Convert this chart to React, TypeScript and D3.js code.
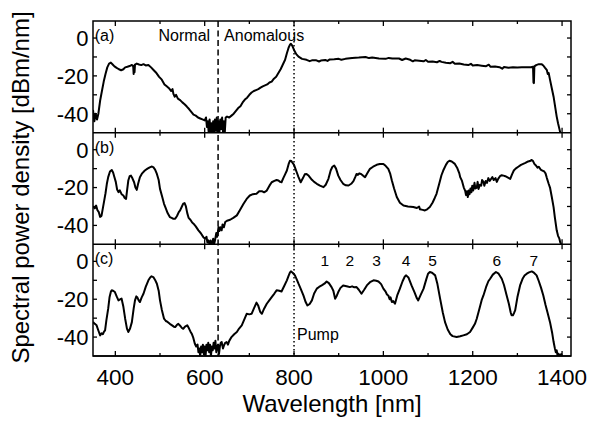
import React from "react";
import * as d3 from "d3";

const xTicksMajor = [400, 600, 800, 1000, 1200, 1400];
const xTicksMinor = [500, 700, 900, 1100, 1300];
const yTicksMajor = [0, -20, -40];
const yTicksMinor = [-10, -30];
const panelLabels = ["(a)", "(b)", "(c)"];
const orderLabels = ["1", "2", "3", "4", "5", "6", "7"];
const orderPositions = [869, 925, 985, 1051, 1110, 1254, 1337];
const normalBoundary = 630;
const pumpWavelength = 800;

const panelA: [number, number][] = [
  [350,-38],[353,-44],[356,-40],[359,-43],[362,-40],[366,-33],[370,-28],[374,-23],[378,-19],[382,-15.5],[386,-13.5],[390,-13],[394,-14],[398,-15],[403,-15.8],[408,-16.5],[413,-17],[418,-16.5],[422,-15.5],[427,-15.2],[432,-14.8],[437,-14.2],[440,-15],[441,-19],[442,-14.5],[443,-18],[444,-14],[448,-13.5],[453,-14],[458,-14.3],[463,-13.8],[468,-14.5],[474,-14.2],[480,-15.5],[486,-17],[492,-18.5],[498,-20.5],[504,-22],[510,-24.5],[515,-25.5],[520,-26.5],[525,-28],[528,-27],[530,-29.5],[533,-31],[536,-30],[540,-32],[545,-32.8],[550,-34],[555,-35],[560,-36.2],[565,-37.5],[570,-39],[575,-40.5],[580,-41],[585,-42],[590,-42.5],[595,-43],[600,-43.5],[603,-42],[605,-47],[607,-44],[609,-50],[611,-43],[613,-50],[615,-45],[617,-50],[619,-44],[621,-50],[623,-43],[625,-49],[627,-42],[629,-50],[631,-44],[633,-50],[635,-43],[637,-48],[639,-42],[641,-50],[643,-44],[645,-50],[647,-42],[650,-41.5],[655,-42],[660,-41],[665,-40],[670,-38.5],[675,-37],[680,-36],[685,-34],[690,-32.5],[695,-31.5],[700,-30],[705,-28.8],[710,-28],[715,-27.5],[720,-27],[725,-26.2],[730,-25.5],[735,-25],[740,-24.5],[745,-23.5],[750,-23],[755,-21.5],[760,-20.5],[765,-18.5],[770,-16.5],[775,-14],[780,-11.5],[784,-8],[788,-5],[791,-3.5],[793,-3],[796,-4],[800,-6.3],[805,-8.5],[810,-9.8],[818,-11],[828,-11.5],[835,-12.2],[840,-11.8],[850,-11.8],[856,-12.4],[860,-11.9],[870,-11.6],[875,-12.1],[880,-11.3],[890,-11.2],[900,-11],[906,-11.5],[915,-11],[930,-10.5],[945,-10.3],[960,-10],[968,-10.6],[975,-10.3],[990,-10.8],[1005,-11],[1012,-10.5],[1020,-10.8],[1035,-10.8],[1042,-11.6],[1050,-10.8],[1060,-11.5],[1066,-12.3],[1070,-11.8],[1080,-12],[1090,-12.3],[1095,-11.6],[1100,-12.5],[1110,-12.4],[1120,-12.8],[1126,-12.1],[1130,-12.6],[1140,-13],[1150,-13.3],[1155,-12.6],[1160,-13.6],[1170,-13.5],[1180,-14],[1190,-14.3],[1196,-13.6],[1200,-14.5],[1210,-14.3],[1220,-14.6],[1230,-14.9],[1236,-14.1],[1240,-15.2],[1250,-15],[1260,-15.4],[1266,-16.2],[1270,-15.3],[1280,-15.7],[1290,-15.5],[1300,-15.6],[1310,-15.4],[1320,-15.5],[1330,-15.4],[1335,-15.2],[1336,-23.5],[1337,-23.8],[1338,-15],[1342,-14.3],[1348,-13.8],[1354,-13.8],[1358,-14.5],[1362,-15.8],[1366,-17],[1368,-19],[1370,-18.5],[1373,-22],[1377,-26.5],[1381,-31],[1385,-37],[1388,-41.5],[1391,-45],[1394,-48],[1396,-50]
];

const panelB: [number, number][] = [
  [350,-30],[354,-31],[357,-29.5],[360,-32],[363,-33],[366,-35.5],[369,-35],[372,-31],[375,-27],[378,-23],[381,-18],[384,-14.5],[388,-11.5],[392,-10.7],[395,-12],[398,-14.5],[401,-17],[404,-21],[407,-22.4],[410,-21.5],[414,-23.5],[418,-24.2],[421,-25.5],[424,-26],[426,-22],[429,-16.3],[432,-14],[435,-13.7],[438,-15],[442,-17.2],[445,-20],[448,-21.2],[451,-18],[455,-14.5],[460,-12.5],[466,-11],[472,-10],[477,-9.3],[481,-8.9],[485,-9.2],[489,-10.5],[493,-12.8],[497,-16],[500,-20.7],[505,-25],[509,-28.6],[513,-31],[517,-33.5],[522,-35.6],[526,-36],[530,-36.5],[534,-36.5],[538,-35],[542,-33],[545,-32.1],[549,-30],[552,-28.5],[555,-28.2],[558,-30],[561,-33.5],[564,-36],[568,-37],[572,-38.5],[575,-39.1],[580,-40.5],[586,-42.6],[591,-44],[597,-46.2],[601,-47],[604,-46],[606,-49],[608,-47.9],[611,-50],[613,-48],[616,-49.7],[619,-47],[621,-50],[623,-48],[626,-44],[628,-46],[631,-40.9],[633,-43],[635,-41],[638,-42.6],[640,-39.5],[643,-41],[646,-38.2],[650,-37.5],[657,-37],[664,-36],[672,-34.7],[680,-31.5],[687,-28.6],[694,-26],[701,-24.2],[708,-23.5],[716,-23.3],[722,-22],[728,-21.9],[733,-22.5],[739,-21.6],[745,-19],[750,-17.2],[756,-16.5],[761,-16],[765,-16.3],[769,-17],[772,-17.2],[776,-15],[780,-13],[784,-11],[788,-7.5],[791,-5.8],[794,-6],[797,-7],[800,-8],[803,-10],[806,-11.9],[810,-14.5],[815,-17.2],[820,-15],[824,-13],[828,-12.8],[833,-13.8],[840,-15.9],[845,-17],[851,-18],[858,-19],[866,-19.8],[871,-18.5],[877,-15.4],[882,-11],[886,-9],[890,-8.4],[894,-10],[899,-13.7],[904,-16],[910,-18],[916,-18.8],[922,-18.9],[928,-18],[933,-16.6],[937,-14.5],[940,-12.8],[943,-13.3],[946,-12.5],[950,-12.8],[955,-13.8],[959,-14.5],[964,-12.5],[970,-10.1],[977,-9],[985,-8],[992,-7.6],[1000,-7.5],[1005,-8.5],[1011,-10.1],[1015,-12.5],[1019,-16.3],[1024,-20.5],[1030,-25],[1037,-28],[1045,-29.5],[1055,-30],[1067,-30.3],[1075,-30.8],[1080,-30],[1082,-31.5],[1088,-31.8],[1093,-32.1],[1098,-31.5],[1104,-30.3],[1110,-28],[1115,-25.5],[1119,-23.3],[1125,-18],[1130,-13.5],[1134,-11],[1140,-8],[1144,-6.5],[1148,-5.8],[1153,-6.2],[1160,-7.5],[1165,-9.5],[1170,-12.5],[1172,-14.5],[1176,-16.5],[1180,-20],[1183,-21.6],[1185,-24],[1187,-22],[1189,-25],[1191,-21.5],[1193,-23.5],[1195,-20.5],[1197,-22.5],[1199,-19],[1201,-21.6],[1204,-17.5],[1206,-20.5],[1209,-20],[1211,-17],[1213,-20.7],[1216,-18.5],[1219,-19],[1221,-16],[1224,-17],[1226,-19],[1229,-16.5],[1232,-17.5],[1235,-15],[1238,-16.5],[1241,-15.5],[1244,-14.5],[1247,-16],[1251,-15],[1254,-17],[1257,-15.4],[1261,-14],[1265,-13.5],[1269,-13.7],[1273,-14],[1277,-14.5],[1281,-15],[1284,-15.4],[1288,-13],[1292,-11],[1296,-10],[1302,-9],[1308,-8],[1313,-7.5],[1318,-7],[1324,-6.2],[1328,-6],[1332,-5.4],[1335,-6],[1338,-7.5],[1342,-8.5],[1345,-9.5],[1348,-9],[1352,-10.5],[1356,-11],[1360,-11.5],[1363,-12.5],[1366,-15],[1370,-18],[1373,-20],[1377,-25],[1381,-30.3],[1384,-36],[1388,-42.6],[1391,-45.5],[1394,-47],[1396,-49],[1398,-50]
];

const panelC: [number, number][] = [
  [350,-32],[354,-33],[358,-33.8],[362,-36.5],[366,-39.1],[369,-38],[372,-38.5],[375,-37],[377,-36.5],[380,-31],[384,-25],[387,-19],[390,-16],[392,-15.3],[395,-15.5],[399,-16.2],[403,-18.5],[407,-20.6],[411,-20],[414,-19.7],[418,-24],[422,-30.3],[426,-35.5],[429,-37.3],[433,-35.5],[437,-32.1],[441,-25],[444,-20.6],[447,-18.5],[449,-18.9],[452,-20.5],[455,-21.5],[459,-19],[463,-17.1],[468,-13.5],[474,-10],[478,-8.5],[481,-7.9],[485,-8.3],[489,-9.8],[493,-11.8],[497,-15.5],[500,-20.6],[504,-25.5],[509,-30.3],[513,-31.5],[517,-32],[522,-33],[527,-33.8],[531,-34.5],[534,-34.7],[538,-33.5],[541,-33],[545,-34],[549,-35.2],[552,-35.6],[556,-34.5],[561,-33.8],[565,-35.5],[568,-37],[571,-38.2],[574,-40],[578,-43.5],[581,-45],[584,-44],[586,-48],[588,-46],[590,-50],[592,-45],[594,-48],[596,-44],[598,-49],[600,-45],[602,-50],[604,-44],[606,-47],[608,-43],[610,-48],[612,-44],[614,-50],[616,-45],[618,-47],[620,-43],[622,-46],[624,-42],[626,-48],[628,-45],[630,-44],[632,-49],[634,-45],[636,-43],[638,-42.6],[641,-46],[643,-44.5],[646,-43],[649,-42.6],[652,-44],[655,-42],[660,-40],[666,-38.5],[672,-37.3],[677,-35.5],[683,-33.8],[689,-30.5],[694,-27.7],[700,-28],[705,-27.7],[710,-25],[716,-21.8],[720,-23.5],[724,-26.5],[728,-27.7],[733,-25],[739,-22.4],[745,-20.5],[750,-18.9],[756,-17],[761,-15.3],[767,-15.5],[772,-15.9],[778,-13],[784,-10],[788,-7.5],[791,-5.8],[793,-5.3],[797,-6],[802,-7.4],[806,-9.5],[810,-11.8],[815,-14.5],[821,-18],[826,-21.5],[830,-23.3],[835,-22.5],[840,-20.6],[845,-17],[851,-14.4],[856,-13.5],[862,-12.7],[868,-11.8],[873,-10.6],[878,-11.5],[884,-13.6],[888,-15.5],[892,-19.7],[896,-18],[899,-16.2],[904,-14],[910,-12.7],[915,-13],[920,-13.3],[925,-13.6],[930,-13.2],[935,-13.7],[940,-13.6],[945,-15],[951,-17.1],[957,-15],[963,-12.7],[970,-11],[978,-10],[984,-10.2],[989,-10.6],[995,-12],[1000,-14.4],[1005,-16],[1008,-17.5],[1011,-18],[1014,-20],[1016,-19],[1019,-21.5],[1022,-21],[1026,-22.4],[1031,-18],[1037,-14.4],[1043,-10.5],[1048,-8],[1051,-7.4],[1056,-8.5],[1063,-12.7],[1070,-16.5],[1075,-19.5],[1078,-20.6],[1083,-18],[1090,-14.4],[1096,-9.5],[1100,-6.5],[1104,-5.6],[1109,-6],[1116,-7.4],[1121,-12],[1127,-19.7],[1133,-27],[1138,-32.1],[1144,-36],[1150,-38.5],[1155,-39.5],[1164,-40],[1172,-39.6],[1179,-39.1],[1187,-38.5],[1194,-37.3],[1200,-35],[1205,-33],[1209,-30.3],[1215,-25],[1220,-20.5],[1224,-18],[1230,-13.5],[1235,-10.5],[1239,-9.2],[1245,-7],[1252,-5.6],[1258,-6.5],[1265,-9.2],[1270,-12.5],[1276,-18],[1281,-22.5],[1285,-27],[1287,-28.5],[1290,-28.5],[1293,-27],[1295,-25.9],[1300,-19],[1306,-12.7],[1312,-9],[1316,-7.5],[1321,-6.5],[1326,-5.8],[1332,-5.3],[1337,-6],[1343,-7.4],[1348,-10.5],[1353,-14],[1358,-18],[1363,-23],[1368,-27.5],[1373,-32.1],[1378,-38],[1381,-42.5],[1384,-46.1],[1386,-48],[1388,-47],[1390,-50],[1392,-48.8],[1395,-50],[1398,-49],[1400,-50]
];

const panels = [panelA, panelB, panelC];

const W = 589;
const H = 422;
const left = 93;
const right = 571;
const top = 21;
const panelH = 111.67;
const FONT = "'Liberation Sans', Arial, Helvetica, sans-serif";

export default function App() {
  const x = d3.scaleLinear().domain([350, 1420]).range([left, right]);
  const yFor = (i: number) =>
    d3.scaleLinear().domain([-50, 9]).range([top + (i + 1) * panelH, top + i * panelH]);
  const bottom = top + 3 * panelH;

  return (
    <svg
      width={W}
      height={H}
      style={{ position: "absolute", left: 0, top: 0, background: "#fff" }}
      fontFamily={FONT}
    >
      <defs>
        {panels.map((_, i) => (
          <clipPath id={`clip${i}`} key={i}>
            <rect x={left} y={top + i * panelH} width={right - left} height={panelH} />
          </clipPath>
        ))}
      </defs>
      {panels.map((data, i) => {
        const y = yFor(i);
        const y0 = top + i * panelH;
        const y1 = y0 + panelH;
        const line = d3
          .line<[number, number]>()
          .x((d) => x(d[0]))
          .y((d) => y(d[1]));
        return (
          <g key={i}>
            <path
              d={line(data) || ""}
              fill="none"
              stroke="#000"
              strokeWidth={2}
              strokeLinejoin="round"
              clipPath={`url(#clip${i})`}
            />
            {xTicksMajor.map((t) => (
              <g key={"M" + t}>
                <line x1={x(t)} x2={x(t)} y1={y0} y2={y0 + 5} stroke="#000" strokeWidth={1.3} />
                <line x1={x(t)} x2={x(t)} y1={y1} y2={y1 - 5} stroke="#000" strokeWidth={1.3} />
              </g>
            ))}
            {xTicksMinor.map((t) => (
              <g key={"m" + t}>
                <line x1={x(t)} x2={x(t)} y1={y0} y2={y0 + 3} stroke="#000" strokeWidth={1.3} />
                <line x1={x(t)} x2={x(t)} y1={y1} y2={y1 - 3} stroke="#000" strokeWidth={1.3} />
              </g>
            ))}
            {yTicksMajor.concat(yTicksMinor).map((t) => (
              <g key={"y" + t}>
                <line x1={left} x2={left + 4} y1={y(t)} y2={y(t)} stroke="#000" strokeWidth={1.3} />
                <line x1={right} x2={right - 4} y1={y(t)} y2={y(t)} stroke="#000" strokeWidth={1.3} />
              </g>
            ))}
            {yTicksMajor.map((t) => (
              <text
                key={"yl" + t}
                x={left - 4.5}
                y={y(t)}
                dy="0.36em"
                textAnchor="end"
                fontSize={22}
                fill="#000"
              >
                {t === 0 ? "0" : "-" + Math.abs(t)}
              </text>
            ))}
            <text x={x(354)} y={y(-1.6)} fontSize={16} fill="#000">
              {panelLabels[i]}
            </text>
            <line x1={left} x2={right} y1={y1} y2={y1} stroke="#000" strokeWidth={1.5} />
          </g>
        );
      })}
      <rect x={left} y={top} width={right - left} height={bottom - top} fill="none" stroke="#000" strokeWidth={1.5} />
      <line
        x1={x(normalBoundary)}
        x2={x(normalBoundary)}
        y1={top}
        y2={bottom}
        stroke="#000"
        strokeWidth={1.5}
        strokeDasharray="6,3.5"
      />
      <line
        x1={x(pumpWavelength)}
        x2={x(pumpWavelength)}
        y1={top}
        y2={bottom}
        stroke="#000"
        strokeWidth={1.5}
        strokeDasharray="1.4,2.6"
      />
      <text x={x(normalBoundary) - 8} y={yFor(0)(-1.4)} textAnchor="end" fontSize={16} fill="#000">
        Normal
      </text>
      <text x={x(normalBoundary) + 6} y={yFor(0)(-1.4)} fontSize={16} fill="#000">
        Anomalous
      </text>
      <text x={x(pumpWavelength) + 3} y={yFor(2)(-41.7)} fontSize={16} fill="#000">
        Pump
      </text>
      {orderLabels.map((l, k) => (
        <text key={l} x={x(orderPositions[k])} y={yFor(2)(-2.4)} textAnchor="middle" fontSize={15.5} fill="#000">
          {l}
        </text>
      ))}
      {xTicksMajor.map((t) => (
        <text key={"xl" + t} x={x(t)} y={bottom + 29} textAnchor="middle" fontSize={22.5} fill="#000">
          {t}
        </text>
      ))}
      <text x={332} y={412} textAnchor="middle" fontSize={24} fill="#000">
        Wavelength [nm]
      </text>
      <text
        transform={`translate(29, 187.5) rotate(-90)`}
        textAnchor="middle"
        fontSize={24}
        fill="#000"
      >
        Spectral power density [dBm/nm]
      </text>
    </svg>
  );
}
